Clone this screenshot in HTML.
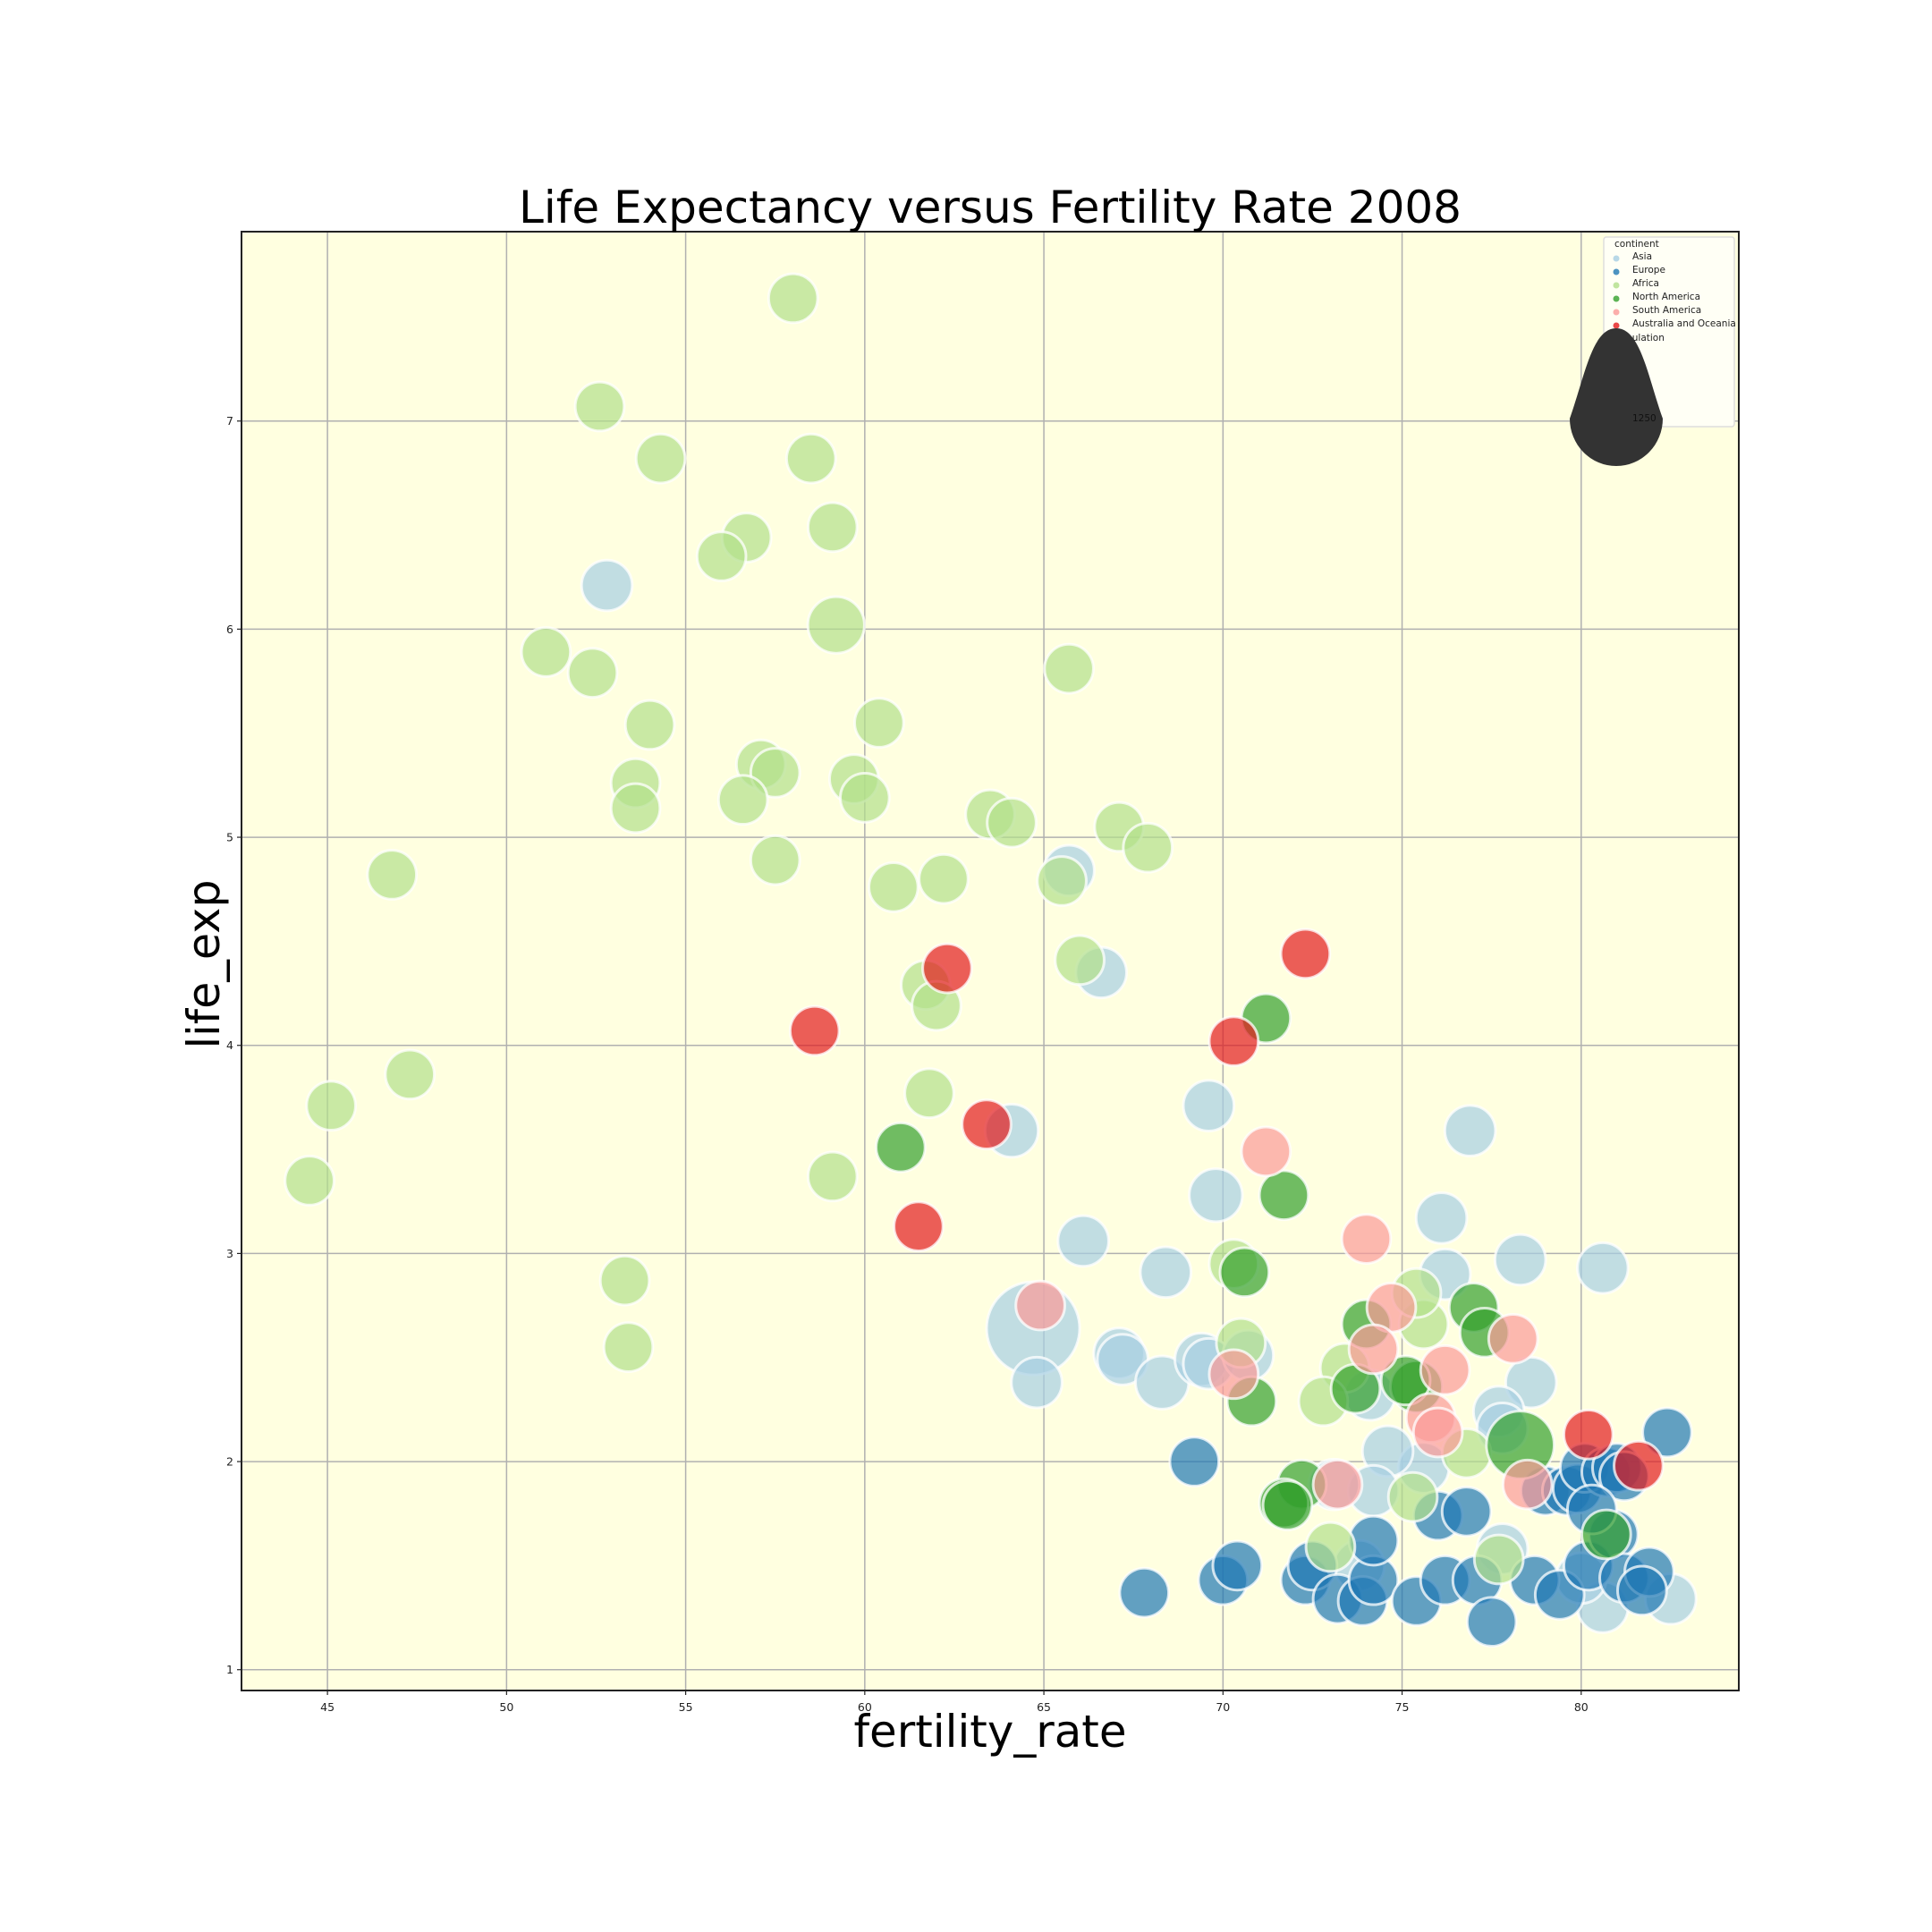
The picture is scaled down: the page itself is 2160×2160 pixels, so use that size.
<!DOCTYPE html>
<html><head><meta charset="utf-8"><style>
html,body{margin:0;padding:0;background:#fff;}
svg{display:block;font-family:"DejaVu Sans","Liberation Sans",sans-serif;}
</style></head><body>
<svg id="chart" width="2160" height="2160" viewBox="0 0 2160 2160" xmlns="http://www.w3.org/2000/svg">
<rect width="2160" height="2160" fill="#ffffff"/>
<rect x="270" y="259" width="1674" height="1631" fill="#ffffe0"/>
<g id="grid"></g>
<g id="points"></g>
<rect x="270" y="259" width="1674" height="1631" fill="none" stroke="#222" stroke-width="2"/>
<g id="ticks"></g>
<text x="1107" y="249" font-size="50" text-anchor="middle" textLength="1054" lengthAdjust="spacingAndGlyphs" fill="#000">Life Expectancy versus Fertility Rate 2008</text>
<text x="1107" y="1953" font-size="50" text-anchor="middle" textLength="305" lengthAdjust="spacingAndGlyphs" fill="#000">fertility_rate</text>
<text x="0" y="0" font-size="50" text-anchor="middle" textLength="189" lengthAdjust="spacingAndGlyphs" fill="#000" transform="translate(245,1078) rotate(-90)">life_exp</text>
<g>
<rect x="1793" y="265" width="146" height="212" rx="3" fill="#fffff5" stroke="#ddd" stroke-width="1.5"/>
<text x="1805" y="276" font-size="10.5" fill="#222">continent</text>
<g id="legend-items"></g>
<text x="1805" y="381" font-size="10.5" fill="#222">population</text>
<path d="M1807,367 C1834,367 1842,420 1859,468 A52,53 0 1 1 1755,468 C1772,420 1780,367 1807,367 Z" fill="#333"/>
<text x="1825" y="471" font-size="10.5" fill="#111">1250</text>
</g>
</svg>
<script>
const continents = ["Asia","Europe","Africa","North America","South America","Australia and Oceania"];
const colors = ["#a6cee3","#1f78b4","#b2df8a","#33a02c","#fb9a99","#e31a1c"];
const xTicks = [45,50,55,60,65,70,75,80];
const yTicks = [1,2,3,4,5,6,7];
// [fertility_rate(x), life_exp(y), population(millions)]
const asia = [[52.8,6.21,20],[65.7,4.84,20],[66.6,4.35,20],[69.6,3.71,20],[76.9,3.59,20],[64.1,3.59,40],[76.1,3.17,20],[69.8,3.28,40],[66.1,3.06,20],[68.4,2.91,20],[76.2,2.90,20],[78.3,2.97,20],[80.6,2.93,20],[78.6,2.38,20],[64.7,2.64,1330],[64.8,2.38,20],[67.1,2.52,20],[67.2,2.49,20],[68.3,2.38,40],[69.4,2.49,40],[69.6,2.47,20],[70.7,2.51,20],[74.1,2.32,20],[77.7,2.24,20],[77.8,2.16,20],[75.6,1.97,20],[74.6,2.05,20],[74.2,1.86,20],[73.1,1.89,20],[77.8,1.58,20],[73.8,1.50,20],[80.6,1.30,20],[82.5,1.34,20],[80.0,1.44,20]];
const europe = [[69.2,2.00,10],[67.8,1.37,10],[70.0,1.43,10],[70.4,1.50,10],[72.3,1.43,10],[72.5,1.50,10],[73.2,1.34,10],[73.9,1.33,10],[74.2,1.43,10],[74.2,1.62,10],[75.4,1.33,10],[76.0,1.74,10],[76.2,1.43,10],[76.8,1.76,10],[77.1,1.43,10],[77.5,1.23,10],[78.7,1.43,10],[79.0,1.86,10],[79.4,1.36,10],[79.6,1.86,10],[79.9,1.87,10],[80.1,1.97,10],[80.2,1.50,10],[80.7,1.95,10],[81.0,1.97,10],[81.2,1.93,10],[80.9,1.65,10],[81.2,1.44,10],[81.9,1.47,10],[82.4,2.14,10],[80.3,1.77,10],[81.7,1.38,10]];
const africa = [[58.0,7.59,10],[52.6,7.07,10],[54.3,6.82,10],[58.5,6.82,10],[59.1,6.49,10],[56.7,6.44,10],[56.0,6.35,10],[59.2,6.02,80],[51.1,5.89,10],[52.4,5.79,10],[65.7,5.81,10],[54.0,5.54,10],[60.4,5.55,10],[57.1,5.35,10],[57.5,5.31,10],[53.6,5.26,10],[59.7,5.28,10],[60.0,5.19,10],[53.6,5.14,10],[56.6,5.18,10],[63.5,5.11,10],[64.1,5.07,10],[67.1,5.05,10],[67.9,4.95,10],[46.8,4.82,10],[57.5,4.89,10],[60.8,4.76,10],[62.2,4.80,10],[65.5,4.79,10],[66.0,4.41,10],[61.7,4.29,10],[62.0,4.19,10],[47.3,3.86,10],[45.1,3.71,10],[61.8,3.77,10],[44.5,3.35,10],[59.1,3.37,10],[53.3,2.87,10],[53.4,2.55,10],[70.3,2.95,10],[70.5,2.57,10],[75.6,2.66,10],[73.4,2.45,10],[72.8,2.29,10],[76.8,2.04,10],[75.3,1.83,10],[73.0,1.59,10],[77.7,1.53,10],[75.4,2.81,10]];
const northAmerica = [[71.2,4.13,10],[61.0,3.51,10],[71.7,3.28,10],[70.6,2.91,10],[70.8,2.29,10],[74.0,2.66,10],[77.0,2.74,10],[77.3,2.62,10],[75.4,2.36,30],[75.1,2.39,10],[78.3,2.08,300],[72.2,1.89,10],[71.7,1.80,10],[71.8,1.79,10],[73.7,2.35,10],[80.7,1.65,10]];
const southAmerica = [[74.0,3.07,10],[74.7,2.74,10],[74.2,2.54,10],[78.1,2.59,10],[76.2,2.44,10],[70.3,2.42,10],[75.8,2.21,10],[76.0,2.14,10],[73.2,1.89,10],[78.5,1.89,10],[71.2,3.49,10],[64.9,2.75,10]];
const oceania = [[72.3,4.44,10],[62.3,4.37,10],[58.6,4.07,10],[70.3,4.02,10],[63.4,3.62,10],[61.5,3.13,10],[80.2,2.13,10],[81.6,1.98,10]];
const seriesList = [asia,europe,africa,northAmerica,southAmerica,oceania];

const NS="http://www.w3.org/2000/svg";
const X0=270,X1=1944,Y0=259,Y1=1890;
const xMin=42.6,xMax=84.4,yMin=0.90,yMax=7.91;
function xs(v){return X0+(v-xMin)/(xMax-xMin)*(X1-X0);}
function ys(v){return Y1-(v-yMin)/(yMax-yMin)*(Y1-Y0);}
function rs(p){return 25+27*Math.sqrt(p/1330);}
function mk(tag,attrs,parent){const e=document.createElementNS(NS,tag);for(const k in attrs)e.setAttribute(k,attrs[k]);parent.appendChild(e);return e;}
const grid=document.getElementById('grid'),ticks=document.getElementById('ticks'),pts=document.getElementById('points');
xTicks.forEach(t=>{
  const x=xs(t);
  const g=mk('line',{x1:x,x2:x,y1:Y0,y2:Y1,stroke:'#b0b0b0','stroke-width':1.5},grid);
  
  
  const tk=mk('line',{x1:x,x2:x,y1:Y1,y2:Y1+5,stroke:'#222','stroke-width':1.2},ticks);
  
  
  const tl=mk('text',{x:x,y:Y1+23,'font-size':12.5,'text-anchor':'middle',fill:'#222'},ticks);
  tl.textContent=t;
  
  
});
yTicks.forEach(t=>{
  const y=ys(t);
  const g=mk('line',{x1:X0,x2:X1,y1:y,y2:y,stroke:'#b0b0b0','stroke-width':1.5},grid);
  
  
  const tk=mk('line',{x1:X0-5,x2:X0,y1:y,y2:y,stroke:'#222','stroke-width':1.2},ticks);
  
  
  const tl=mk('text',{x:X0-9,y:y+4.5,'font-size':12.5,'text-anchor':'end',fill:'#222'},ticks);
  tl.textContent=t;
  
  
});
seriesList.forEach((s,i)=>{
  s.forEach(d=>{
    const c=mk('circle',{cx:xs(d[0]),cy:ys(d[1]),r:rs(d[2]),fill:colors[i],'fill-opacity':0.7,stroke:'#ffffff','stroke-opacity':0.75,'stroke-width':3},pts);
    
    
  });
});
const li=document.getElementById('legend-items');
continents.forEach((n,i)=>{
  const y=287+15*i;
  const c=mk('circle',{cx:1807,cy:y+2,r:3.5,fill:colors[i],'fill-opacity':0.8},li);
  
  
  const t=mk('text',{x:1825,y:y+3,'font-size':10.5,fill:'#222'},li);
  t.textContent=n;
  
  
});
</script>
</body></html>
